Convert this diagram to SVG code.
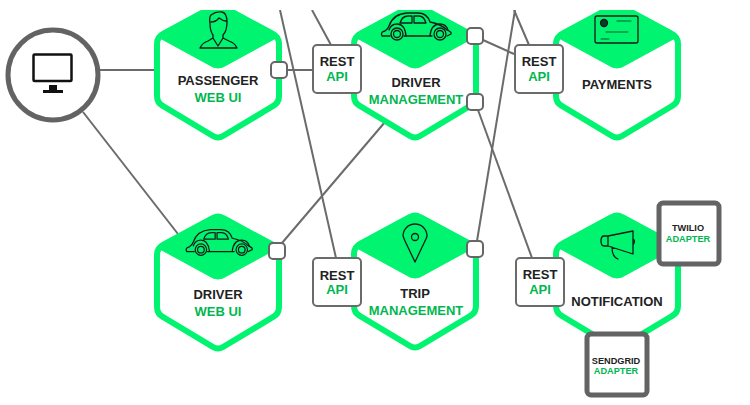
<svg xmlns="http://www.w3.org/2000/svg" width="750" height="405" viewBox="0 0 750 405">
<style>
.hex{fill:#fff;stroke:#00f46f;stroke-width:6;stroke-linejoin:round}
.dia{fill:#00f46f;stroke:#00f46f;stroke-width:1;stroke-linejoin:round}
.ln{stroke:#6b6b6b;stroke-width:2;fill:none}
.port{fill:#fff;stroke:#666;stroke-width:2}
.rest{fill:#fff;stroke:#6b6b6b;stroke-width:2}
.adapter{fill:#fff;stroke:#636363;stroke-width:5}
.ic{fill:none;stroke:#101c18;stroke-width:1.3;stroke-linejoin:round;stroke-linecap:round}
text{font-family:"Liberation Sans",Arial,sans-serif;font-weight:700;font-size:13px;text-anchor:middle}
.k{fill:#222}
.g{fill:#00b750}
.s{font-size:9.2px}
</style>
<defs>
<g id="hexagon">
<path class="hex" d="M-5,-63 Q0,-66 5,-63 L55,-36 Q61,-33 61,-26 L61,26 Q61,33 55,36 L5,66 Q0,69 -5,66 L-55,36 Q-61,33 -61,26 L-61,-26 Q-61,-33 -55,-36 Z"/>
<path class="dia" d="M0,-66 L60,-33 L5,-3 Q0,-1 -5,-3 L-60,-33 Z"/>
</g>
<g id="car" class="ic">
<path d="M-25,9 H-33 Q-35,5 -30,4 Q-27,2 -26,-1 Q-22,-13 -8,-14 H3 Q12,-14 15,-5 Q26,-3 32,3 Q37,5 36,7 L32,9"/>
<path d="M-11,9 H17"/>
<path d="M-15,-4 Q-13,-11 -7,-11 H-3 V-4 Z M-1,-11 H4 Q9,-11 11,-4 H-1 Z"/>
<path d="M-26,3 Q-24,-3 -18,-3 Q-10,-3 -9,9 M15,9 Q16,-3 25,-3 Q31,-3 33,3"/>
<circle cx="-18" cy="7" r="6"/><circle cx="-18" cy="7" r="3.500"/>
<circle cx="25" cy="7" r="6"/><circle cx="25" cy="7" r="3.500"/>
</g>
<rect id="port" class="port" x="-8" y="-8" width="16" height="16" rx="4"/>
<rect id="restbox" class="rest" x="0" y="0" width="48" height="48" rx="4"/>
</defs>
<g id="connectors">
<path class="ln" d="M100,70H155"/>
<path class="ln" d="M83,112L178,234"/>
<path class="ln" d="M287,70H313"/>
<path class="ln" d="M331,45L312,10"/>
<path class="ln" d="M280,10L336,258"/>
<path class="ln" d="M282,243L385,122"/>
<path class="ln" d="M483,40L514,54"/>
<path class="ln" d="M529,45L514,10"/>
<path class="ln" d="M477,241L515,10"/>
<path class="ln" d="M478,110L532,258"/>
</g>
<g id="client">
<circle cx="53" cy="75" r="45" fill="#fff" stroke="#636363" stroke-width="5"/>
<rect x="33.500" y="54.500" width="38" height="26.500" fill="none" stroke="#111" stroke-width="2.500" rx="1"/>
<path d="M49,85H57V90H63V93H43V90H49Z" fill="#111"/>
</g>
<g id="passenger-web-ui">
<use href="#hexagon" x="218" y="70"/>
<path class="ic" d="M200,48 Q202,43 208,41 L213,38 V35 Q210,31 210,24 Q209,17 211,15 Q216,11 222,12 Q227,13 227,22 Q227,31 223,35 V38 L229,41 Q235,43 237,48 Z M213,38 L218,46 L223,38 M211,22 Q216,22 219,18 Q223,21 226,21"/>
<text class="k" x="218" y="85">PASSENGER</text>
<text class="g" x="218" y="102">WEB UI</text>
</g>
<g id="driver-management">
<use href="#hexagon" x="415" y="70"/>
<use href="#car" x="415" y="27"/>
<text class="k" x="416" y="87">DRIVER</text>
<text class="g" x="416" y="104">MANAGEMENT</text>
</g>
<g id="payments">
<use href="#hexagon" x="617" y="70"/>
<g class="ic">
<rect x="595" y="16" width="43" height="27" rx="2"/>
<circle cx="604" cy="23" r="3.500" fill="#0b3d2c"/>
<path d="M617,21H631M606,32H628M601,39H609" stroke-width="0.700"/>
</g>
<text class="k" x="617" y="89">PAYMENTS</text>
</g>
<g id="driver-web-ui">
<use href="#hexagon" x="218" y="281"/>
<use href="#car" x="218" y="243" transform="translate(218 243) scale(.95) translate(-218 -243)"/>
<text class="k" x="218" y="299">DRIVER</text>
<text class="g" x="218" y="316">WEB UI</text>
</g>
<g id="trip-management">
<use href="#hexagon" x="415" y="280"/>
<path class="ic" d="M415,262 L405,241 Q403,236 403,236 A12,12 0 1 1 427,236 Q427,237 425,241 Z"/>
<circle class="ic" cx="415" cy="237" r="3.500"/>
<text class="k" x="415" y="298">TRIP</text>
<text class="g" x="416" y="315">MANAGEMENT</text>
</g>
<g id="notification">
<use href="#hexagon" x="617" y="280"/>
<path class="ic" d="M608,236 L633,231 V254 L608,246 H604 Q601,246 601,241 Q601,236 604,236 Z M608,236 V246 M612,247 Q612,257 618,259 M633,239 Q636,241 633,245"/>
<text class="k" x="617" y="306">NOTIFICATION</text>
</g>
<g id="port-passenger"><use href="#port" x="279" y="70"/></g>
<g id="port-driver-web"><use href="#port" x="277" y="251"/></g>
<g id="port-driver-mgmt-1"><use href="#port" x="475" y="36"/></g>
<g id="port-driver-mgmt-2"><use href="#port" x="475" y="102"/></g>
<g id="port-trip"><use href="#port" x="475" y="249"/></g>
<g id="rest-1"><use href="#restbox" x="313" y="45"/><text class="k" x="337" y="66">REST</text><text class="g" x="337" y="81">API</text></g>
<g id="rest-2"><use href="#restbox" x="515" y="45"/><text class="k" x="539" y="66">REST</text><text class="g" x="539" y="81">API</text></g>
<g id="rest-3"><use href="#restbox" x="313" y="258"/><text class="k" x="337" y="280">REST</text><text class="g" x="337" y="294">API</text></g>
<g id="rest-4"><use href="#restbox" x="516" y="258"/><text class="k" x="540" y="279">REST</text><text class="g" x="540" y="294">API</text></g>
<g id="twilio-adapter">
<rect class="adapter" x="659" y="203" width="60" height="61" rx="4"/>
<text class="k s" x="688" y="231">TWILIO</text>
<text class="g s" x="688" y="242">ADAPTER</text>
</g>
<g id="sendgrid-adapter">
<rect class="adapter" x="587" y="334" width="60" height="61" rx="4"/>
<text class="k s" x="616" y="364">SENDGRID</text>
<text class="g s" x="616" y="374">ADAPTER</text>
</g>
<rect x="0" y="0" width="750" height="10" fill="#fff"/>
</svg>
